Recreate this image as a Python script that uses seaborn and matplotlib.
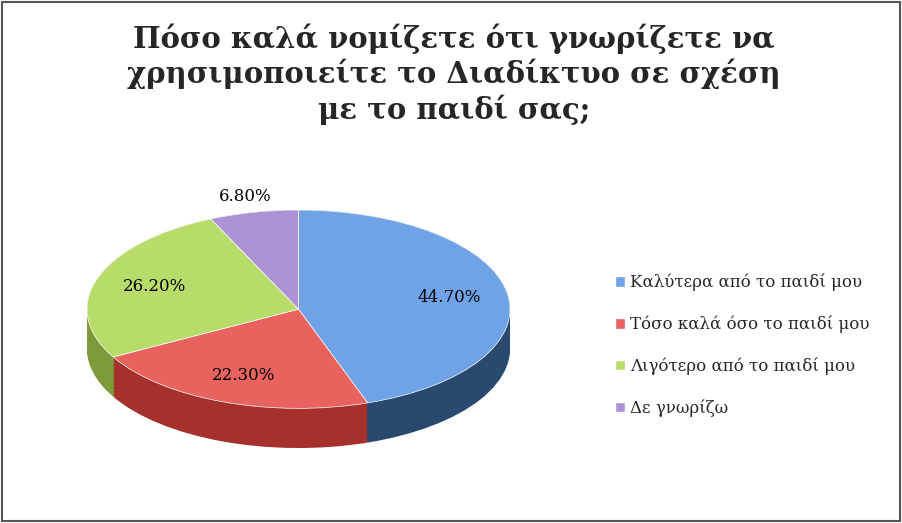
import matplotlib
matplotlib.use("Agg")
import matplotlib.pyplot as plt
import seaborn as sns
import numpy as np
from matplotlib.patches import Patch, Rectangle

categories = ["Καλύτερα από το παιδί μου", "Τόσο καλά όσο το παιδί μου",
              "Λιγότερο από το παιδί μου", "Δε γνωρίζω"]
values = [44.7, 22.3, 26.2, 6.8]

sns.set_theme(style="white")
plt.rcParams['font.family'] = ['DejaVu Serif', 'Liberation Serif']

top_colors = sns.color_palette(["#6fa3e6", "#e8625e", "#b8dc6a", "#ad92d6"])
side_colors = sns.color_palette(["#294a6e", "#a5302c", "#7d9a3a", "#5f4a80"])

fig = plt.figure(figsize=(9.02, 5.23), dpi=100)
fig.patches.append(Rectangle((0.002, 0.003), 0.996, 0.994, transform=fig.transFigure,
                             fill=False, edgecolor="#555555", linewidth=1.5))

fig.text(0.503, 0.955, "Πόσο καλά νομίζετε ότι γνωρίζετε να\nχρησιμοποιείτε το Διαδίκτυο σε σχέση\nμε το παιδί σας;",
         ha="center", va="top", fontsize=21, fontweight="bold", linespacing=1.2)

ax = fig.add_axes([87/902, (523-452)/523, 423/902, 242/523])
for d in np.linspace(0.40, 0.0, 30):
    ax.pie(values, colors=side_colors, startangle=90, counterclock=False,
           center=(0, -d), wedgeprops=dict(linewidth=0))
wedges, texts, autotexts = ax.pie(values, colors=top_colors, startangle=90, counterclock=False,
                                  autopct=lambda p: f"{p:.2f}%", pctdistance=0.72,
                                  wedgeprops=dict(linewidth=0.5, edgecolor="white"),
                                  textprops=dict(fontsize=12, color="black"))
ax.set_aspect("auto")
ax.set_xlim(-1, 1)
ax.set_ylim(-1.44, 1.0)
ax.axis("off")
autotexts[3].set_position((-0.25, 1.14))

handles = [Patch(facecolor=c) for c in top_colors]
fig.legend(handles, categories, loc="center left", bbox_to_anchor=(0.665, 0.34),
           frameon=False, fontsize=12, labelspacing=1.45, handlelength=0.6, handleheight=0.6,
           handletextpad=0.3)

fig.savefig("out.png", dpi=100)
